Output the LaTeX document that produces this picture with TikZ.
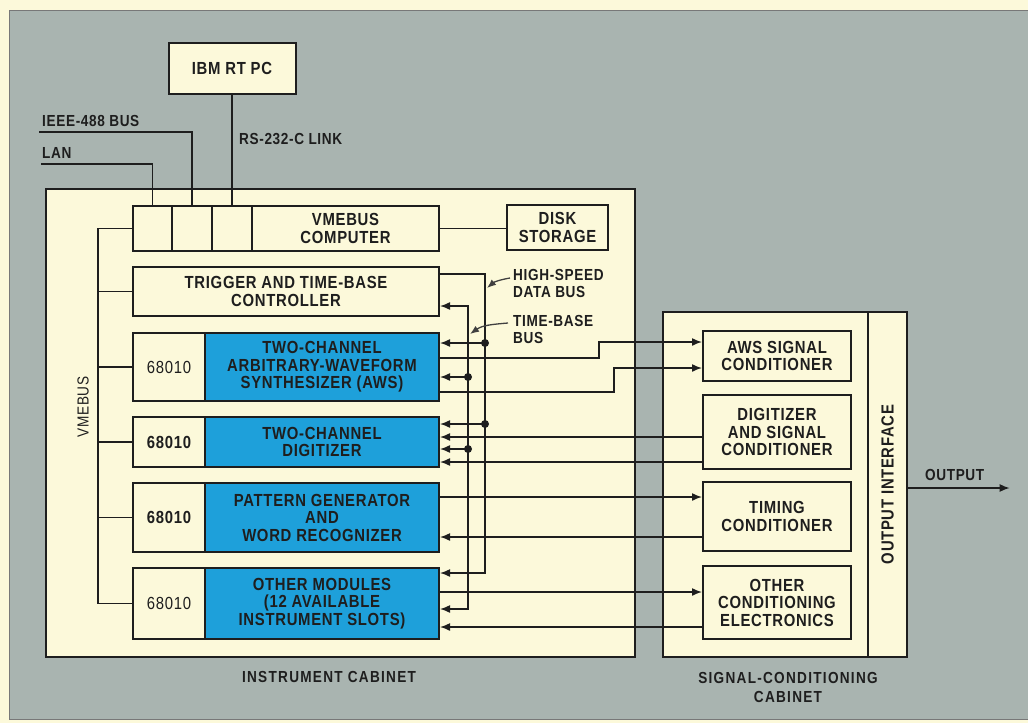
\documentclass[tikz,border=0pt]{standalone}
\usepackage{fontspec}
\setmainfont{Liberation Sans}[FakeStretch=0.85, LetterSpace=4]
\newfontfamily\capfont{Liberation Sans}[FakeStretch=0.85, LetterSpace=8]
\usetikzlibrary{arrows.meta, positioning, calc}
\definecolor{cCream}{HTML}{FCF9DA}
\definecolor{cPanel}{HTML}{A9B4B0}
\definecolor{cModule}{HTML}{1EA0DA}
\definecolor{cInk}{HTML}{1E1E1E}
\tikzset{
  cabinet/.style={
    draw=cInk, fill=cCream, line width=1.4pt, inner sep=0pt,
  },
  unitbox/.style={
    draw=cInk, fill=#1, line width=2pt, inner sep=0pt,
    align=center, text=cInk,
    font=\fontsize{17.5}{17.5}\selectfont\bfseries,
  },
  unitbox/.default=cCream,
  note/.style={
    inner sep=0pt, align=left, text=cInk,
    font=\fontsize{16}{17.5}\selectfont\bfseries,
  },
  caption/.style={
    inner sep=0pt, align=center, text=cInk,
    font=\capfont\fontsize{16}{19}\selectfont\bfseries,
  },
  wire/.style={draw=cInk, line width=1.5pt},
  arw/.style={wire, -{Latex[length=10pt, width=8pt]}},
  arws/.style={wire, {Latex[length=10pt, width=8pt]}-{Latex[length=10pt, width=8pt]}},
  ptr/.style={draw=cInk!85, line width=1.3pt, -{Latex[length=9pt, width=7pt]}},
}

\begin{document}
\begin{tikzpicture}[x=1pt, y=-1pt]
  \useasboundingbox (0,0) rectangle (1028,723);
  % backdrop
  \fill[cCream] (0,0) rectangle (1028,723);
  \draw[cInk!60, line width=1pt, fill=cPanel] (1032,10) -- (9,10) -- (9,719) -- (1032,719);

  % cabinets
  \node[cabinet, minimum width=589pt, minimum height=468pt] (inst) at (340.5,423) {};
  \node[cabinet, minimum width=244pt, minimum height=345pt] (sig) at (785,484.5) {};
  \node[cabinet, minimum width=39pt, minimum height=345pt] (outif) at (887.5,484.5) {};
  \node[unitbox, draw=none, fill=none, rotate=90] (outiflbl) at (outif) {OUTPUT INTERFACE};
  \node[caption] (instlbl) at (329,677) {INSTRUMENT CABINET};
  \node[caption] (siglbl) at (788,687) {SIGNAL-CONDITIONING\\CABINET};

  % host and computer
  \node[unitbox, minimum width=127pt, minimum height=51pt] (ibm) at (232,68.5) {IBM RT PC};
  \node[unitbox, minimum width=39pt, minimum height=45pt] (slot1) at (152.5,228.5) {};
  \node[unitbox, minimum width=40pt, minimum height=45pt] (slot2) at (192,228.5) {};
  \node[unitbox, minimum width=40pt, minimum height=45pt] (slot3) at (232,228.5) {};
  \node[unitbox, minimum width=187pt, minimum height=45pt] (comp) at (345.5,228.5) {VMEBUS\\COMPUTER};
  \node[unitbox, minimum width=101pt, minimum height=45pt] (disk) at (557.5,227.5) {DISK\\STORAGE};
  \node[unitbox, minimum width=306pt, minimum height=49pt] (trig) at (286,291.5) {TRIGGER AND TIME-BASE\\CONTROLLER};

  % instrument modules
  \node[unitbox, minimum width=72pt, minimum height=68pt, font=\fontsize{17.5}{17.5}\selectfont] (acpu) at (169,367) {68010};
  \node[unitbox=cModule, minimum width=234pt, minimum height=68pt] (aws) at (322,367) {TWO-CHANNEL\\ARBITRARY-WAVEFORM\\SYNTHESIZER (AWS)};
  \node[unitbox, minimum width=72pt, minimum height=50pt] (dcpu) at (169,442) {68010};
  \node[unitbox=cModule, minimum width=234pt, minimum height=50pt] (dig) at (322,442) {TWO-CHANNEL\\DIGITIZER};
  \node[unitbox, minimum width=72pt, minimum height=69pt] (pcpu) at (169,517.5) {68010};
  \node[unitbox=cModule, minimum width=234pt, minimum height=69pt] (pat) at (322,517.5) {PATTERN GENERATOR\\AND\\WORD RECOGNIZER};
  \node[unitbox, minimum width=72pt, minimum height=71pt, font=\fontsize{17.5}{17.5}\selectfont] (ocpu) at (169,603.5) {68010};
  \node[unitbox=cModule, minimum width=234pt, minimum height=71pt] (oth) at (322,603.5) {OTHER MODULES\\(12 AVAILABLE\\INSTRUMENT SLOTS)};

  % conditioners
  \node[unitbox, minimum width=148pt, minimum height=50pt] (awsc) at (777,356) {AWS SIGNAL\\CONDITIONER};
  \node[unitbox, minimum width=148pt, minimum height=74pt] (digc) at (777,432) {DIGITIZER\\AND SIGNAL\\CONDITIONER};
  \node[unitbox, minimum width=148pt, minimum height=69pt] (timc) at (777,516.5) {TIMING\\CONDITIONER};
  \node[unitbox, minimum width=148pt, minimum height=73pt] (othc) at (777,602.5) {OTHER\\CONDITIONING\\ELECTRONICS};

  % outside links
  \coordinate (lanend) at (41,164);
  \coordinate (ieeeend) at (39,132);
  \node[note, above right=5pt and 1pt of lanend, anchor=south west] (lanlbl) {LAN};
  \node[note, above right=5pt and 3pt of ieeeend, anchor=south west] (ieeelbl) {IEEE-488 BUS};
  \node[note, anchor=west] (rslbl) at (239,139) {RS-232-C LINK};
  \draw[wire] (slot1.north) |- (lanend);
  \draw[wire] (slot2.north) |- (ieeeend);
  \draw[wire] (slot3.north) -- (ibm.south);
  \draw[wire] (comp.east) -- (comp.east -| disk.west);

  % VMEbus
  \draw[wire] (slot1.west) -- ++(-34,0) |- (ocpu.west);
  \foreach \n in {trig, acpu, dcpu, pcpu}
    \draw[wire] (\n.west) -- ++(-34,0);
  \node[note, rotate=90, font=\fontsize{16}{17.5}\selectfont] (vmelbl) at (83,407) {VMEBUS};

  % high-speed data bus and time-base bus
  \coordinate (hsbus) at ([xshift=45pt]trig.east);
  \coordinate (tbbus) at ([xshift=28pt]trig.east);
  \draw[arw] ([yshift=17.5pt]trig.east) -- ++(45,0) |- ([yshift=30.5pt]oth.east);
  \draw[arws] ([yshift=-14.5pt]trig.east) -- ++(28,0) |- ([yshift=-5.5pt]oth.east);
  \foreach \m/\dy/\b in {aws/24pt/hsbus, aws/-10pt/tbbus, dig/18pt/hsbus, dig/-7pt/tbbus} {
    \path ([yshift=\dy]\m.east) coordinate (tap);
    \draw[arw] (\b |- tap) -- (tap);
    \fill[cInk] (\b |- tap) circle (4pt);
  }
  \node[note, anchor=north west] (hslbl) at (513,269) {HIGH-SPEED\\DATA BUS};
  \node[note, anchor=north west] (tblbl) at (513,315) {TIME-BASE\\BUS};
  \draw[ptr] ($(hslbl.north west)+(-3,9)$) to[out=190, in=40] ($(hsbus |- hslbl.north west)+(2,19)$);
  \draw[ptr] ($(tblbl.north west)+(-5,8)$) to[out=185, in=35] ($(tbbus |- tblbl.north west)+(2,19)$);

  % module to conditioner links
  \draw[arw] ([yshift=9pt]aws.east) -- ++(159,0) |- ([yshift=14pt]awsc.west);
  \draw[arw] ([yshift=-25pt]aws.east) -- ++(174,0) |- ([yshift=-12pt]awsc.west);
  \draw[arw] ([yshift=-5pt]digc.west) -- ([yshift=5pt]dig.east);
  \draw[arw] ([yshift=-30pt]digc.west) -- ([yshift=-20pt]dig.east);
  \draw[arw] ([yshift=20.5pt]pat.east) -- ([yshift=19.5pt]timc.west);
  \draw[arw] ([yshift=-20.5pt]timc.west) -- ([yshift=-19.5pt]pat.east);
  \draw[arw] ([yshift=11.5pt]oth.east) -- ([yshift=10.5pt]othc.west);
  \draw[arw] ([yshift=-24.5pt]othc.west) -- ([yshift=-23.5pt]oth.east);

  % output
  \draw[arw] ([yshift=-3.5pt]outif.east) -- ++(102,0) coordinate (outend);
  \node[note, anchor=south] (outlbl) at ($([yshift=-3.5pt]outif.east)!0.5!(outend)+(-4,-7)$) {OUTPUT};
\end{tikzpicture}
\end{document}
